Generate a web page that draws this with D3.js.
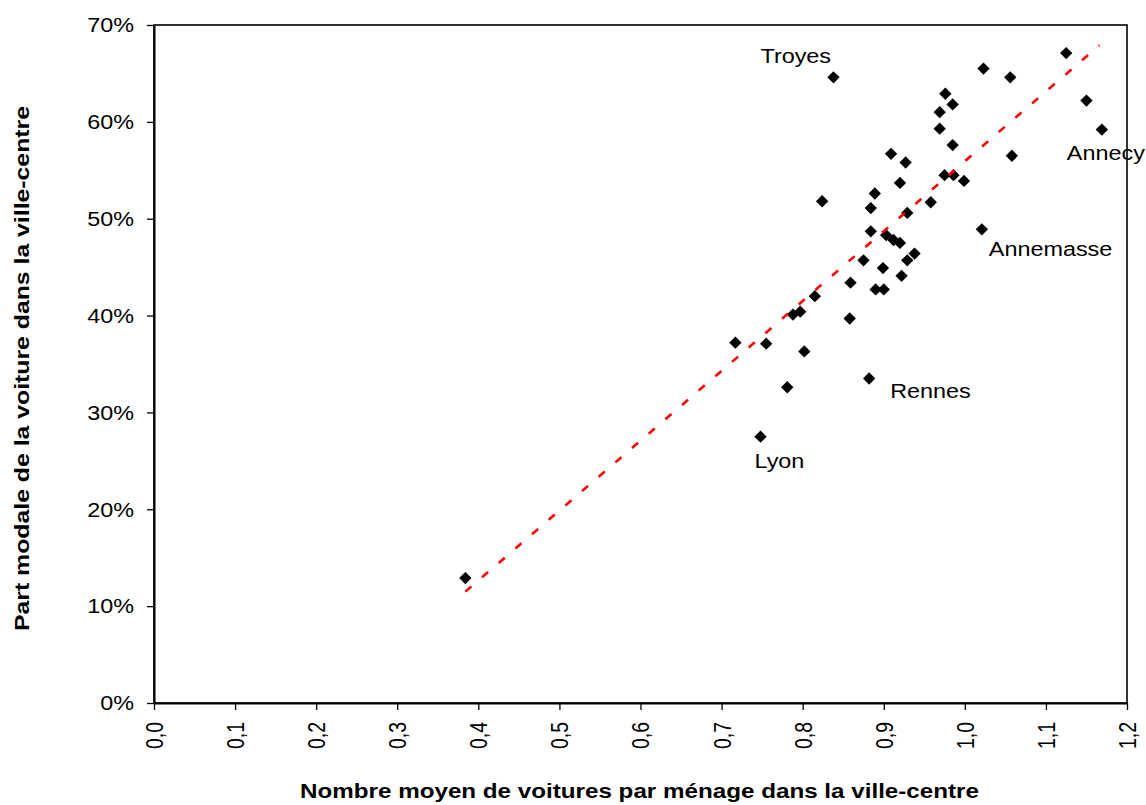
<!DOCTYPE html>
<html>
<head>
<meta charset="utf-8">
<script src="https://cdn.jsdelivr.net/npm/d3@7"></script>
<style>
  body { margin: 0; background: #fff; }
  svg { display: block; font-family: "Liberation Sans", Arial, sans-serif; }
</style>
</head>
<body>
<div id="chart"></div>
<script>
// Nombre moyen de voitures par ménage (x) et part modale de la voiture (y)
const carsPerHousehold = [
  0.838, 1.125, 1.023, 1.056, 0.976, 0.985, 0.969, 1.150, 0.969, 1.169,
  0.985, 1.058, 0.909, 0.927, 0.975, 0.986, 0.999, 0.920, 0.889, 0.824,
  0.884, 0.958, 0.929, 1.021, 0.884, 0.903, 0.912, 0.920, 0.938, 0.929,
  0.875, 0.899, 0.922, 0.859, 0.890, 0.900, 0.815, 0.788, 0.797, 0.858,
  0.717, 0.755, 0.802, 0.781, 0.882, 0.748, 0.384
];
const carShare = [
  0.646, 0.671, 0.655, 0.646, 0.629, 0.618, 0.610, 0.622, 0.593, 0.592,
  0.576, 0.565, 0.567, 0.558, 0.545, 0.545, 0.539, 0.537, 0.526, 0.518,
  0.511, 0.517, 0.506, 0.489, 0.487, 0.483, 0.478, 0.475, 0.464, 0.457,
  0.457, 0.449, 0.441, 0.434, 0.427, 0.427, 0.420, 0.401, 0.404, 0.397,
  0.372, 0.371, 0.363, 0.326, 0.335, 0.275, 0.129
];
const cityNames = [
  "Troyes", "", "", "", "", "", "", "", "", "Annecy",
  "", "", "", "", "", "", "", "", "", "",
  "", "", "", "Annemasse", "", "", "", "", "", "",
  "", "", "", "", "", "", "", "", "", "",
  "", "", "", "", "Rennes", "Lyon", ""
];

// courbe de tendance (linéaire), extrémités
const trendX = [0.384, 1.166];
const trendY = [0.115, 0.679];

const xTicks = [0, 0.1, 0.2, 0.3, 0.4, 0.5, 0.6, 0.7, 0.8, 0.9, 1.0, 1.1, 1.2];
const yTicks = [0, 0.1, 0.2, 0.3, 0.4, 0.5, 0.6, 0.7];

const xTitle = "Nombre moyen de voitures par ménage dans la ville-centre";
const yTitle = "Part modale de la voiture dans la ville-centre";

function init() {
  const W = 1146, H = 805;
  const left = 154, right = 1127, top = 25, bottom = 703;
  const stretch = "scale(1.2,1)";

  const svg = d3.select("#chart")
    .append("svg")
    .attr("width", W)
    .attr("height", H);

  svg.append("rect").attr("width", W).attr("height", H).attr("fill", "#fff");

  const x = d3.scaleLinear().domain([0, 1.2]).range([left, right]);
  const y = d3.scaleLinear().domain([0, 0.7]).range([bottom, top]);

  // plot area frame
  svg.append("rect")
    .attr("x", left)
    .attr("y", top)
    .attr("width", right - left)
    .attr("height", bottom - top)
    .attr("fill", "none")
    .attr("stroke", "#000")
    .attr("stroke-width", 1.6);

  // axes
  const fmtX = v => d3.format(".1f")(v).replace(".", ",");
  const xAxis = svg.append("g")
    .attr("transform", `translate(0,${bottom})`)
    .call(d3.axisBottom(x).tickValues(xTicks).tickFormat(fmtX).tickSize(7).tickSizeOuter(0));
  xAxis.select(".domain").attr("stroke", "#000").attr("stroke-width", 2);
  xAxis.selectAll(".tick line").attr("stroke", "#000").attr("stroke-width", 1.3);
  xAxis.selectAll(".tick text")
    .attr("x", 0).attr("y", 0).attr("dy", "0.36em")
    .attr("transform", `translate(0,19) ${stretch} rotate(-90)`)
    .attr("text-anchor", "end")
    .style("font-size", "19.5px")
    .style("font-family", "Liberation Sans, Arial, sans-serif")
    .attr("fill", "#000");

  const yAxis = svg.append("g")
    .attr("transform", `translate(${left},0)`)
    .call(d3.axisLeft(y).tickValues(yTicks).tickFormat(d3.format(".0%")).tickSize(7).tickSizeOuter(0));
  yAxis.select(".domain").attr("stroke", "#000").attr("stroke-width", 2);
  yAxis.selectAll(".tick line").attr("stroke", "#000").attr("stroke-width", 1.3);
  yAxis.selectAll(".tick text")
    .attr("x", 0).attr("dy", "0.35em")
    .attr("transform", `translate(-20,0) ${stretch}`)
    .attr("text-anchor", "end")
    .style("font-size", "19.5px")
    .style("font-family", "Liberation Sans, Arial, sans-serif")
    .attr("fill", "#000");

  // axis titles
  svg.append("text")
    .attr("x", 300)
    .attr("y", 798)
    .attr("textLength", 679)
    .attr("lengthAdjust", "spacingAndGlyphs")
    .style("font-size", "20px")
    .style("font-weight", "bold")
    .text(xTitle);

  svg.append("text")
    .attr("transform", "translate(28.5,631) rotate(-90)")
    .attr("textLength", 525)
    .attr("lengthAdjust", "spacingAndGlyphs")
    .style("font-size", "21px")
    .style("font-weight", "bold")
    .text(yTitle);

  const points = carsPerHousehold.map((v, i) => ({ x: v, y: carShare[i], name: cityNames[i] }));

  // diamond markers
  svg.append("g").selectAll("path")
    .data(points)
    .enter()
    .append("path")
    .attr("d", d3.symbol(d3.symbolSquare, 76))
    .attr("transform", d => `translate(${x(d.x)},${y(d.y)}) rotate(45)`)
    .attr("fill", "#000");

  // trend line on top
  const line = d3.line().x(d => x(d[0])).y(d => y(d[1]));
  svg.append("path")
    .attr("d", line(trendX.map((v, i) => [v, trendY[i]])))
    .attr("fill", "none")
    .attr("stroke", "#ff0000")
    .attr("stroke-width", 2.6)
    .attr("stroke-dasharray", "8,14");

  // city labels (offset of the label's left edge / baseline from the point)
  const labelOffset = {
    "Troyes": [-73, -14],
    "Lyon": [-6, 31],
    "Rennes": [21, 19],
    "Annemasse": [7, 27],
    "Annecy": [-35, 30]
  };
  svg.append("g").selectAll("text")
    .data(points.filter(d => d.name))
    .enter()
    .append("text")
    .attr("transform", d => {
      const o = labelOffset[d.name];
      return `translate(${x(d.x) + o[0]},${y(d.y) + o[1]}) ${stretch}`;
    })
    .style("font-size", "19.5px")
    .attr("fill", "#000")
    .text(d => d.name);
}

window.onload = init;
</script>
</body>
</html>
